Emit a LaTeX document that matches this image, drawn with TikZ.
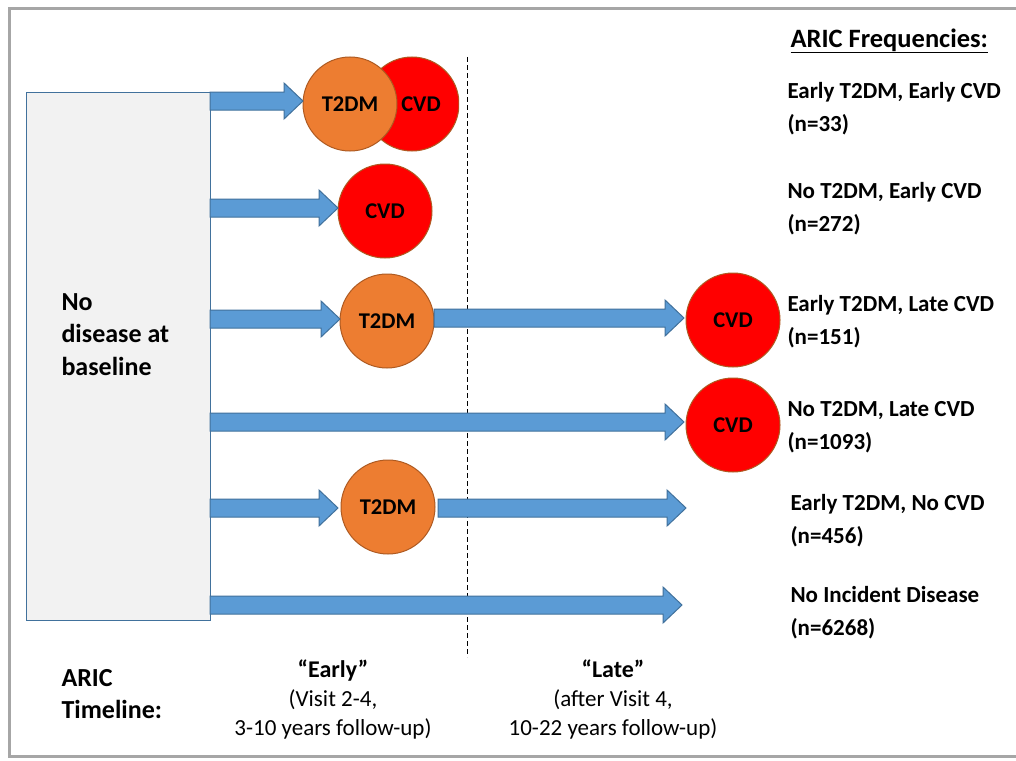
\documentclass[tikz,border=0pt]{standalone}
\usepackage{fontspec}
\setmainfont{Carlito}
\usetikzlibrary{calc}
\definecolor{arrfill}{HTML}{5B9BD5}
\definecolor{arrdraw}{HTML}{41719C}
\definecolor{orng}{HTML}{ED7D31}
\definecolor{circdraw}{HTML}{AE5A21}
\definecolor{redc}{HTML}{FF0000}
\definecolor{boxfill}{HTML}{F2F2F2}
\definecolor{framec}{HTML}{A6A6A6}
\tikzset{
  t2dm/.style={circle, minimum size=94pt, inner sep=0pt, fill=orng, draw=circdraw, line width=1pt, font=\bfseries\fontsize{22.5}{26}\selectfont},
  cvd/.style={circle, minimum size=94pt, inner sep=0pt, fill=redc, draw=circdraw, line width=1pt, font=\bfseries\fontsize{22.5}{26}\selectfont},
  fatarr/.style={fill=arrfill, draw=arrdraw, line width=1pt},
  freq/.style={anchor=north west, align=left, font=\bfseries\fontsize{23}{33}\selectfont},
  tl/.style={anchor=north, align=center, font=\fontsize{23}{29}\selectfont},
}
\newcommand\fatarrow[2]{%
  \draw[fatarr] let \p1=(#1), \p2=(#2) in
    (\x1,\y1-9pt) -- (\x2-19pt,\y1-9pt) -- (\x2-19pt,\y1-18pt) -- (\x2,\y1)
    -- (\x2-19pt,\y1+18pt) -- (\x2-19pt,\y1+9pt) -- (\x1,\y1+9pt) -- cycle;}
\begin{document}
\begin{tikzpicture}[x=1pt,y=-1pt]
\useasboundingbox (0,0) rectangle (1016,760);
\fill[white] (0,0) rectangle (1016,760);
\draw[framec, line width=3pt] (9,9) rectangle (1030,756);
% baseline box
\node[draw=arrdraw, fill=boxfill, line width=1pt, minimum width=184pt, minimum height=528pt, inner sep=0pt, anchor=north west] (box) at (26,92) {};
\node[anchor=north west, align=left, font=\bfseries\fontsize{26}{32.5}\selectfont] (boxt) at (58,290) {No\\disease at\\baseline};
% dashed divider
\coordinate (dtop) at (467,57);
\coordinate (dbot) at (467,657);
\draw[dash pattern=on 5pt off 3pt, line width=0.9pt] (dtop) -- (dbot);
% circles
\begin{scope}
\clip (0,0) rectangle (459,760);
\node[cvd] (c1) at (412,104) {\hspace*{18pt}CVD};
\end{scope}
\node[t2dm] (t1) at (350,104) {T2DM};
\node[cvd] (c2) at (385,211) {CVD};
\node[t2dm] (t3) at (387,321) {T2DM};
\node[cvd] (c3) at (733,320) {CVD};
\node[cvd] (c4) at (733,425) {CVD};
\node[t2dm] (t5) at (388,507) {T2DM};
% arrow coordinates
\coordinate (s1) at (210,101); \coordinate (e1) at (303,101);
\coordinate (s2) at (210,208); \coordinate (e2) at (338,208);
\coordinate (s3) at (210,319); \coordinate (e3) at (340,319);
\coordinate (s3b) at (434,318); \coordinate (e3b) at (684,318);
\coordinate (s4) at (210,422); \coordinate (e4) at (684,422);
\coordinate (s5) at (210,508); \coordinate (e5) at (338,508);
\coordinate (s5b) at (438,508); \coordinate (e5b) at (686,508);
\coordinate (s6) at (210,605); \coordinate (e6) at (682,605);
\fatarrow{s1}{e1}
\fatarrow{s2}{e2}
\fatarrow{s3}{e3}
\fatarrow{s3b}{e3b}
\fatarrow{s4}{e4}
\fatarrow{s5}{e5}
\fatarrow{s5b}{e5b}
\fatarrow{s6}{e6}
% frequencies
\node[anchor=north west, font=\bfseries\fontsize{26.5}{30}\selectfont] (fh) at (787,25) {\underline{ARIC Frequencies:}};
\node[freq] (f1) at (784,79) {Early T2DM, Early CVD\\(n=33)};
\node[freq] (f2) at (784,179) {No T2DM, Early CVD\\(n=272)};
\node[freq] (f3) at (784,292) {Early T2DM, Late CVD\\(n=151)};
\node[freq] (f4) at (784,398) {No T2DM, Late CVD\\(n=1093)};
\node[freq] (f5) at (787,491) {Early T2DM, No CVD\\(n=456)};
\node[freq] (f6) at (787,583) {No Incident Disease\\(n=6268)};
% timeline
\node[anchor=north west, align=left, font=\bfseries\fontsize{26}{32}\selectfont] (tlab) at (58,666) {ARIC\\Timeline:};
\node[tl] (early) at (333,656) {{\bfseries\fontsize{24}{29}\selectfont “Early”}\\(Visit 2-4,\\3-10 years follow-up)};
\node[tl] (late) at (613,656) {{\bfseries\fontsize{24}{29}\selectfont “Late”}\\(after Visit 4,\\10-22 years follow-up)};
\end{tikzpicture}
\end{document}
